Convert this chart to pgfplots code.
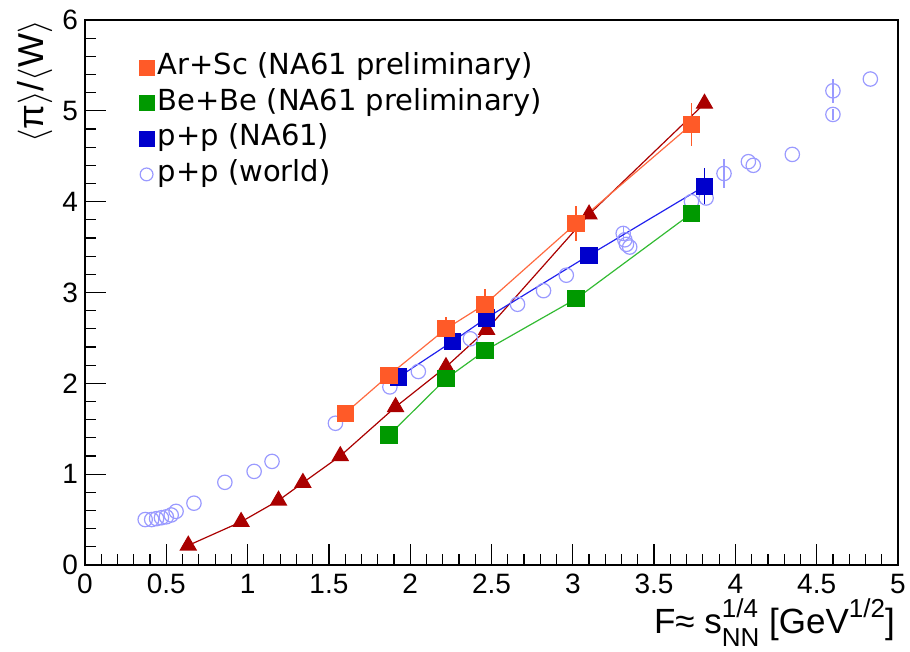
\documentclass[border=0pt]{standalone}
\usepackage{fontspec}
\usepackage{pgfplots}
\pgfplotsset{compat=1.18}
\setmainfont{Liberation Sans}
\newfontfamily\legfont{DejaVu Sans}

\definecolor{arsc}{HTML}{FF5A28}
\definecolor{arscline}{HTML}{FF6A40}
\definecolor{bebe}{HTML}{009900}
\definecolor{bebeline}{HTML}{33BB33}
\definecolor{ppna}{HTML}{0000CC}
\definecolor{ppline}{HTML}{2222EE}
\definecolor{tri}{HTML}{AA0000}
\definecolor{world}{HTML}{9A9AFF}

\newcommand{\scr}{\fontsize{13}{13}\selectfont}

% Ar+Sc (NA61 preliminary)
\pgfplotstableread{
x y e
1.60 1.67 0.05
1.87 2.09 0.09
2.22 2.60 0.13
2.46 2.87 0.17
3.02 3.76 0.19
3.73 4.85 0.24
}\arsc
% Be+Be (NA61 preliminary)
\pgfplotstableread{
x y
1.87 1.43
2.22 2.05
2.46 2.36
3.02 2.93
3.73 3.87
}\bebe
% p+p (NA61)
\pgfplotstableread{
x y e
1.93 2.07 0.04
2.26 2.46 0.06
2.47 2.72 0.05
3.10 3.41 0.08
3.81 4.17 0.20
}\ppna
% triangles (no legend entry)
\pgfplotstableread{
x y
0.635 0.215
0.96 0.475
1.19 0.71
1.34 0.905
1.57 1.20
1.91 1.74
2.22 2.18
2.47 2.59
3.10 3.86
3.81 5.08
}\tri
% p+p (world)
\pgfplotstableread{
x y e
0.37 0.50 0
0.41 0.50 0
0.44 0.51 0
0.47 0.52 0
0.50 0.53 0
0.53 0.55 0
0.56 0.59 0
0.67 0.68 0
0.86 0.91 0
1.04 1.03 0
1.15 1.14 0
1.54 1.56 0
1.875 1.96 0
2.05 2.13 0
2.37 2.49 0
2.66 2.87 0
2.82 3.02 0
2.96 3.19 0
3.31 3.65 0.08
3.32 3.58 0
3.33 3.53 0
3.35 3.50 0
3.73 4.00 0
3.82 4.04 0
3.93 4.31 0.16
4.08 4.44 0
4.11 4.40 0
4.35 4.52 0
4.60 5.22 0.13
4.60 4.96 0.06
4.83 5.35 0
}\world

\begin{document}
\begin{tikzpicture}
\begin{axis}[
  scale only axis,
  width=406.5pt, height=272.5pt,
  xmin=0, xmax=5, ymin=0, ymax=6,
  xtick={0,0.5,...,5}, ytick={0,1,...,6},
  minor x tick num=4, minor y tick num=4,
  tick pos=left, tick align=inside,
  major tick length=10.5pt, minor tick length=5.5pt,
  axis line style={line width=0.8pt},
  every tick/.style={black, line width=0.6pt},
  tick label style={font=\fontsize{14}{16}\selectfont},
  x tick label style={inner sep=1pt, yshift=-3.5pt},
  /pgf/number format/assume math mode=true,
  xlabel={F≈ s\rlap{\raisebox{8pt}{\scr 1/4}}\raisebox{-6.5pt}{\scr NN} [GeV\raisebox{8pt}{\scr 1/2}]},
  ylabel={$\langle$π$\rangle$/$\langle$W$\rangle$},
  xlabel style={font=\fontsize{17.5}{19}\selectfont, inner sep=0pt, at={(axis description cs:0.9965,0)}, anchor=base east, yshift=-34.5pt},
  ylabel style={font=\fontsize{18}{20}\selectfont, inner sep=0pt, at={(axis description cs:-0.051,1)}, anchor=base east, rotate=0},
  legend cell align=left,
  legend style={draw=none, fill=none, inner sep=0pt, row sep=0pt,
    at={(axis description cs:0.066,0.946)}, anchor=north west,
    font=\legfont\fontsize{14.5}{16}\selectfont,
    nodes={text height=10.5pt, text depth=3.5pt, inner sep=1.9pt}},
]
\addlegendimage{only marks, mark=square*, mark size=3.75pt, color=arsc}
\addlegendentry{Ar+Sc (NA61 preliminary)}
\addlegendimage{only marks, mark=square*, mark size=3.75pt, color=bebe}
\addlegendentry{Be+Be (NA61 preliminary)}
\addlegendimage{only marks, mark=square*, mark size=3.75pt, color=ppna}
\addlegendentry{p+p (NA61)}
\addlegendimage{only marks, mark=o, mark size=3.2pt, color=world, line width=0.6pt}
\addlegendentry{p+p (world)}

\addplot[forget plot, only marks, mark=o, mark size=3.6pt, color=world, line width=0.6pt,
  error bars/.cd, y dir=both, y explicit, error mark=none,
  error bar style={line width=0.6pt, world}]
  table[x=x, y=y, y error=e] {\world};

\addplot[forget plot, color=tri, line width=0.6pt, mark=triangle*, mark size=4.5pt,
  mark options={solid}] table[x=x, y=y] {\tri};

\addplot[forget plot, color=bebeline, line width=0.6pt, mark=square*, mark size=4pt,
  mark options={bebe}] table[x=x, y=y] {\bebe};

\addplot[forget plot, color=ppline, line width=0.6pt, mark=square*, mark size=4pt,
  mark options={ppna},
  error bars/.cd, y dir=both, y explicit, error mark=none,
  error bar style={line width=0.8pt, ppna}]
  table[x=x, y=y, y error=e] {\ppna};

\addplot[forget plot, color=arscline, line width=0.6pt, mark=square*, mark size=4pt,
  mark options={arsc},
  error bars/.cd, y dir=both, y explicit, error mark=none,
  error bar style={line width=0.8pt, arsc}]
  table[x=x, y=y, y error=e] {\arsc};

\coordinate (bbSW) at (rel axis cs:-0.1046,-0.1596);
\coordinate (bbNE) at (rel axis cs:1.0148,1.0367);
\end{axis}
\pgfresetboundingbox
\path[use as bounding box] (bbSW) rectangle (bbNE);
\end{tikzpicture}
\end{document}
